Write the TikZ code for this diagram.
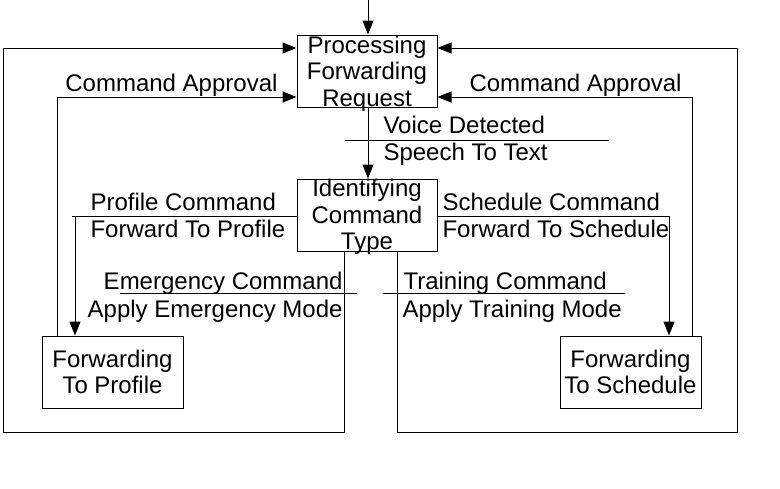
\documentclass[tikz,border=0pt]{standalone}
\usepackage{fontspec}
\setmainfont{Liberation Sans}
\usepackage{tikz}
\usetikzlibrary{arrows.meta,calc,positioning}

\begin{document}
\begin{tikzpicture}[
		x=1pt, y=-1pt,
		line width=1pt,
		bloc/.style={draw, minimum width=140pt, minimum height=72pt, inner sep=0pt, align=center, font=\fontsize{24}{26.5}\selectfont},
		etiq/.style={inner sep=0pt, font=\fontsize{24}{27}\selectfont},
		fleche/.style={-{Triangle[length=14pt, width=11pt]}}
		]
	
		\useasboundingbox (0,0) rectangle (780,488);
	
		% --- Blocs ---
		\node[bloc, text depth=0pt] (pfr) at (367,71) {Processing\\Forwarding\\Request};
		\node[bloc, text depth=0.5pt] (ict) at (367,215) {Identifying\\Command\\Type};
		\node[bloc, minimum width=141pt] (prof) at (112.5,372) {Forwarding\\To Profile};
		\node[bloc, minimum width=141pt] (sched) at (630.5,372) {Forwarding\\To Schedule};
		\coordinate (entree) at (368,0);
	
		% --- Liaisons ---
		\draw[fleche] (entree) -- (pfr.north -| entree);
		\draw[fleche] (pfr.south -| entree) -- (ict.north -| entree);
		\draw[fleche] (ict.west |- 0,216) -| (prof.north -| 75,0);
		\draw[fleche] (ict.east |- 0,216) -| (sched.north -| 669,0);
		\draw[fleche] (prof.north -| 57,0) |- (pfr.west |- 0,97);
		\draw[fleche] (sched.north -| 692,0) |- (pfr.east |- 0,97);
		\draw[fleche] (ict.south -| 344,0) -- (344,432) -- (3,432) -- (3,48) -- (pfr.west |- 0,48);
		\draw[fleche] (ict.south -| 397,0) -- (397,432) -- (737,432) -- (737,48) -- (pfr.east |- 0,48);
	
		% Traits entre les etiquettes
		\draw (345,140) -- (609,140);
		\draw (72,216) -- (ict.west |- 0,216);
		\draw (ict.east |- 0,216) -- (670,216);
		\draw (120,293) -- (357,293);
		\draw (383,293) -- (625,293);
	
		% --- Etiquettes ---
		\node[etiq, anchor=base east] (appG) at (278,91) {Command Approval};
		\node[etiq, anchor=base west] (appD) at (469,91) {Command Approval};
		\node[etiq, anchor=base west] (voix) at (383,133) {Voice Detected};
		\node[etiq, anchor=base west] (texte) at (383,160) {Speech To Text};
		\node[etiq, anchor=base west] (profC) at (90,210) {Profile Command};
		\node[etiq, anchor=base west] (profF) at (90,237) {Forward To Profile};
		\node[etiq, anchor=base west] (schedC) at (442,210) {Schedule Command};
		\node[etiq, anchor=base west] (schedF) at (442,237) {Forward To Schedule};
		\node[etiq, anchor=base east] (urgC) at (343,289) {Emergency Command};
		\node[etiq, anchor=base east] (urgM) at (343,317) {Apply Emergency Mode};
		\node[etiq, anchor=base west] (formC) at (403,289) {Training Command};
		\node[etiq, anchor=base west] (formM) at (402,317) {Apply Training Mode};
	
	\end{tikzpicture}
\end{document}
